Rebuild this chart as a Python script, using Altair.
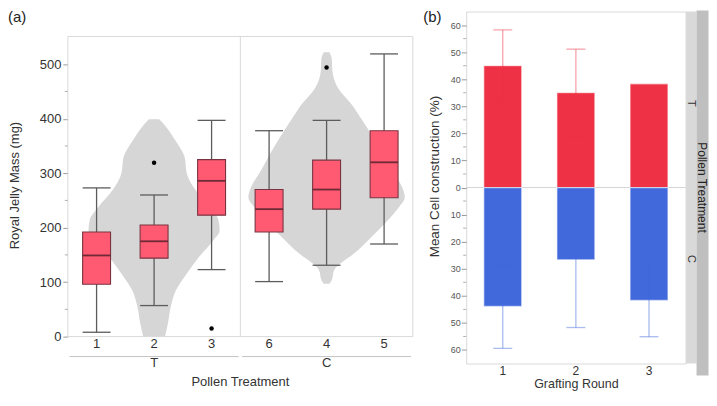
import altair as alt
import pandas as pd

FONT = "Liberation Sans"

# ---------------- panel (a): Royal jelly mass by colony ----------------
box_group = ["T", "T", "T", "C", "C", "C"]
box_cat = ["1", "2", "3", "6", "4", "5"]
whisker_low = [8, 57, 123, 101, 131, 170]
quart1 = [96, 144, 223, 192, 234, 255]
median = [149, 175, 286, 234, 270, 320]
quart3 = [192, 205, 325, 270, 324, 378]
whisker_high = [273, 260, 397, 378, 397, 519]

outlier_cat = ["2", "3", "4"]
outlier_val = [319, 15, 494]

groups = ["T", "C"]
group_middle_cat = ["2", "4"]      # violin of each treatment is drawn around this colony

# violin outline: mass value and half width (in colony-slot units) of the density shape
violin_T_mass = [0, 24, 55, 85, 116, 146, 177, 195, 214, 238, 269, 299, 330, 360, 385, 399]
violin_T_half = [0.19, 0.24, 0.29, 0.38, 0.57, 0.78, 1.03, 1.14, 1.12, 0.97, 0.72, 0.57,
                 0.53, 0.37, 0.21, 0.09]
violin_C_mass = [97, 104, 122, 134, 152, 183, 214, 238, 256, 275, 305, 336, 366, 397, 427,
                 458, 488, 510, 522]
violin_C_half = [0.05, 0.09, 0.13, 0.24, 0.47, 0.78, 1.07, 1.26, 1.36, 1.31, 1.14, 0.98, 0.81,
                 0.62, 0.43, 0.19, 0.10, 0.09, 0.05]

mass_ticks = [0, 100, 200, 300, 400, 500]
mass_minor = [50, 150, 250, 350, 450]
mass_frame_top = 551      # top of the (a) plotting frame, in mg
mass_view_top = 596.8     # axis range reaching up to the top of panel (b)

# ---------------- panel (b): mean cell construction ----------------
rounds = ["1", "2", "3"]
T_mean = [45.0, 35.0, 38.3]
T_err_low = [31.5, 18.7, None]
T_err_high = [58.2, 51.1, None]
C_mean = [43.9, 26.7, 41.7]
C_err_low = [28.5, 1.5, 28.3]
C_err_high = [59.4, 51.7, 55.1]
cell_ticks = [-60, -50, -40, -30, -20, -10, 0, 10, 20, 30, 40, 50, 60]
cell_minor = [-55, -45, -35, -25, -15, -5, 5, 15, 25, 35, 45, 55]

# ---------------- tables ----------------
n_slots = len(box_cat)
slot_of = {c: i + 0.5 for i, c in enumerate(box_cat)}
box_df = pd.DataFrame({"group": box_group, "cat": box_cat, "wlo": whisker_low,
                       "q1": quart1, "med": median, "q3": quart3, "whi": whisker_high})
out_df = pd.DataFrame({"cat": outlier_cat, "mass": outlier_val})
centres = [slot_of[c] for c in group_middle_cat]
vio_df = pd.concat([
    pd.DataFrame({"group": "T", "mass": violin_T_mass,
                  "lo": [centres[0] - h for h in violin_T_half],
                  "hi": [centres[0] + h for h in violin_T_half]}),
    pd.DataFrame({"group": "C", "mass": violin_C_mass,
                  "lo": [centres[1] - h for h in violin_C_half],
                  "hi": [centres[1] + h for h in violin_C_half]}),
], ignore_index=True)
grp_df = pd.DataFrame({"group": groups, "centre": centres,
                       "start": [c - 1.47 for c in centres], "end": [c + 1.47 for c in centres]})
frame_df = pd.DataFrame({"lo": [0], "hi": [mass_frame_top], "left": [0],
                         "mid": [n_slots / 2], "right": [n_slots]})

bar_df = pd.concat([
    pd.DataFrame({"round": rounds, "grp": "T", "mean": T_mean}),
    pd.DataFrame({"round": rounds, "grp": "C", "mean": [-v for v in C_mean]}),
], ignore_index=True)
err_rows = []
for r, lo, hi in zip(rounds, T_err_low, T_err_high):
    if lo is not None:
        err_rows.append({"round": r, "grp": "T", "lo": lo, "hi": hi})
for r, lo, hi in zip(rounds, C_err_low, C_err_high):
    if lo is not None:
        err_rows.append({"round": r, "grp": "C", "lo": -lo, "hi": -hi})
err_df = pd.DataFrame(err_rows)

one = pd.DataFrame({"t": ["x"]})

TXT = "#333333"
FRAME = "#d9d9d9"

# ---------------- panel (a) chart ----------------
PW_A = 346
PH_A = 326
ysc = alt.Scale(domain=[0, mass_view_top], nice=False, zero=False)
yax = alt.Axis(values=mass_ticks, title="Royal Jelly Mass (mg)", grid=False, domain=False,
               tickSize=5, tickColor="#9a9a9a", labelFontSize=13, labelColor=TXT,
               labelPadding=2, titleFontSize=13, titleFontWeight="normal", titleColor=TXT,
               titleX=-53, titleY=174, titleAngle=270, titleBaseline="middle",
               titleAlign="center")
xax = alt.Axis(title=None, labelAngle=0, domain=False, ticks=False, tickSize=0,
               labelFontSize=13, labelColor=TXT, labelPadding=1)
X = alt.X("cat:N", sort=box_cat, scale=alt.Scale(domain=box_cat, paddingInner=0, paddingOuter=0),
          axis=xax)
slot_sc = alt.Scale(domain=[0, n_slots], nice=False, zero=False)


def Y(field):
    return alt.Y(field, scale=ysc, axis=yax)


fr = alt.Chart(frame_df)
frame_top = fr.mark_rule(color=FRAME).encode(
    x=alt.X("left:Q", scale=slot_sc, axis=None), x2="right:Q", y=Y("hi:Q"))
frame_bot = fr.mark_rule(color=FRAME).encode(
    x=alt.X("left:Q", scale=slot_sc, axis=None), x2="right:Q", y=Y("lo:Q"))
frame_l = fr.mark_rule(color=FRAME).encode(
    x=alt.X("left:Q", scale=slot_sc, axis=None), y=Y("lo:Q"), y2="hi:Q")
frame_m = fr.mark_rule(color=FRAME).encode(
    x=alt.X("mid:Q", scale=slot_sc, axis=None), y=Y("lo:Q"), y2="hi:Q")
frame_r = fr.mark_rule(color=FRAME).encode(
    x=alt.X("right:Q", scale=slot_sc, axis=None), y=Y("lo:Q"), y2="hi:Q")

vio = alt.Chart(vio_df).mark_area(orient="horizontal", interpolate="monotone",
                                  color="#d6d6d6").encode(
    y=Y("mass:Q"),
    x=alt.X("lo:Q", scale=slot_sc, axis=None),
    x2="hi:Q",
    detail="group:N",
)
grp_line = alt.Chart(grp_df).mark_rule(color="#c4c4c4", strokeWidth=1).encode(
    x=alt.X("start:Q", scale=slot_sc, axis=None), x2="end:Q", y=alt.value(PH_A + 20))
grp_text = alt.Chart(grp_df).mark_text(fontSize=13, color=TXT, baseline="middle").encode(
    x=alt.X("centre:Q", scale=slot_sc, axis=None), y=alt.value(PH_A + 26.7), text="group:N")
ptitle = alt.Chart(pd.DataFrame({"t": ["Pollen Treatment"]})).mark_text(
    align="center", baseline="middle", fontSize=13, color=TXT).encode(
    text="t:N", x=alt.value(PW_A / 2), y=alt.value(371.5))
lab_a = alt.Chart(pd.DataFrame({"t": ["(a)"]})).mark_text(
    align="left", baseline="middle", fontSize=15, color="#222222").encode(
    text="t:N", x=alt.value(-60), y=alt.value(5))
minor_a = alt.Chart(pd.DataFrame({"v": mass_minor})).mark_rule(color="#b0b0b0").encode(
    x=alt.value(-3), x2=alt.value(0), y=Y("v:Q"))

base = alt.Chart(box_df)
whisk = base.mark_rule(color="#5c5c5c", strokeWidth=1.3).encode(x=X, y=Y("wlo:Q"), y2="whi:Q")
cap_lo = base.mark_tick(size=28, thickness=1.3, color="#5c5c5c", opacity=1).encode(
    x=X, y=Y("wlo:Q"))
cap_hi = base.mark_tick(size=28, thickness=1.3, color="#5c5c5c", opacity=1).encode(
    x=X, y=Y("whi:Q"))
box = base.mark_bar(size=28, fill="#ff5a72", stroke="#7a3441", strokeWidth=1.1).encode(
    x=X, y=Y("q1:Q"), y2="q3:Q")
med = base.mark_tick(size=28, thickness=1.8, color="#6e2a36", opacity=1).encode(
    x=X, y=Y("med:Q"))
outl = alt.Chart(out_df).mark_circle(size=20, color="black", opacity=1).encode(
    x=X, y=Y("mass:Q"))

slot_layer = alt.layer(vio, frame_top, frame_bot, frame_l, frame_m, frame_r, grp_line, grp_text)
box_layer = alt.layer(whisk, cap_lo, cap_hi, box, med, outl, minor_a, ptitle, lab_a)
A = alt.layer(slot_layer, box_layer).resolve_scale(x="independent").properties(
    width=PW_A, height=PH_A, view=alt.ViewBackground(stroke=None))

# ---------------- panel (b) ----------------
PW_B = 220
PH_B = 353
ysc_b = alt.Scale(domain=[-65, 65], nice=False, zero=False)
yax_b = alt.Axis(values=cell_ticks, labelExpr="abs(datum.value)", grid=False, domain=False,
                 tickSize=5, tickColor="#9a9a9a", labelFontSize=9, labelColor="#555555",
                 labelPadding=1, title="Mean Cell construction (%)", titleFontSize=13.5,
                 titleFontWeight="normal", titleColor=TXT, titleX=-32, titleY=165,
                 titleAngle=270, titleBaseline="middle", titleAlign="center")
xax_b = alt.Axis(title="Grafting Round", labelAngle=0, domain=False, ticks=False, tickSize=0,
                 labelFontSize=12, labelColor=TXT, labelPadding=1.5, titleFontSize=12.5,
                 titleFontWeight="normal", titleColor=TXT, titleY=20, titleBaseline="middle")
XB = alt.X("round:N", scale=alt.Scale(domain=rounds), axis=xax_b)
col_bar = alt.Color("grp:N", scale=alt.Scale(domain=["T", "C"], range=["#ee3144", "#4169dc"]),
                    legend=None)
col_err = alt.Color("grp:N", scale=alt.Scale(domain=["T", "C"], range=["#b51f30", "#1f45b0"]),
                    legend=None)

zero = alt.Chart(pd.DataFrame({"v": [0]})).mark_rule(color="#d4d4d4").encode(
    y=alt.Y("v:Q", scale=ysc_b, axis=yax_b))
bars = alt.Chart(bar_df).mark_bar(size=38, stroke="white", strokeOpacity=0.55,
                                  strokeWidth=1.2).encode(
    x=XB, y=alt.Y("mean:Q", scale=ysc_b, axis=yax_b), color=col_bar)
err = alt.Chart(err_df).mark_rule(opacity=0.45, strokeWidth=1.3).encode(
    x=XB, y=alt.Y("lo:Q", scale=ysc_b, axis=yax_b), y2="hi:Q", color=col_err)
err_lo = alt.Chart(err_df).mark_tick(size=19, thickness=1.3, opacity=0.45).encode(
    x=XB, y=alt.Y("lo:Q", scale=ysc_b, axis=yax_b), color=col_err)
err_hi = alt.Chart(err_df).mark_tick(size=19, thickness=1.3, opacity=0.45).encode(
    x=XB, y=alt.Y("hi:Q", scale=ysc_b, axis=yax_b), color=col_err)
minor_b = alt.Chart(pd.DataFrame({"v": cell_minor})).mark_rule(color="#b0b0b0").encode(
    x=alt.value(-3), x2=alt.value(0), y=alt.Y("v:Q", scale=ysc_b, axis=yax_b))
strip1 = alt.Chart(one).mark_rect(color="#d9d9d9").encode(
    x=alt.value(PW_B + 0.5), x2=alt.value(PW_B + 11), y=alt.value(0), y2=alt.value(PH_B))
strip2 = alt.Chart(one).mark_rect(color="#bfbfbf").encode(
    x=alt.value(PW_B + 11), x2=alt.value(243), y=alt.value(-1), y2=alt.value(PH_B + 12))
lab_T = alt.Chart(pd.DataFrame({"t": ["T"]})).mark_text(
    angle=90, fontSize=11, color=TXT, baseline="middle").encode(
    text="t:N", x=alt.value(PW_B + 5.75), y=alt.value(92))
lab_C = alt.Chart(pd.DataFrame({"t": ["C"]})).mark_text(
    angle=90, fontSize=11, color=TXT, baseline="middle").encode(
    text="t:N", x=alt.value(PW_B + 5.75), y=alt.value(248))
lab_PT = alt.Chart(pd.DataFrame({"t": ["Pollen Treatment"]})).mark_text(
    angle=90, fontSize=12, color="#222222", baseline="middle").encode(
    text="t:N", x=alt.value(PW_B + 16.5), y=alt.value(PH_B / 2))
lab_b = alt.Chart(pd.DataFrame({"t": ["(b)"]})).mark_text(
    align="left", baseline="middle", fontSize=15, color="#222222").encode(
    text="t:N", x=alt.value(-43), y=alt.value(5))

B = alt.layer(zero, bars, err, err_lo, err_hi, minor_b, strip1, strip2, lab_T, lab_C, lab_PT,
              lab_b).properties(width=PW_B, height=PH_B)

chart = alt.hconcat(A, B, spacing=8.5).properties(
    padding={"left": 0, "top": 0, "right": 0, "bottom": 0}
).configure_view(stroke=FRAME, strokeWidth=1).configure_axis(
    labelFont=FONT, titleFont=FONT
).configure_text(font=FONT).configure_title(font=FONT)

chart.save("out.html", embed_options={"renderer": "svg", "actions": False})
